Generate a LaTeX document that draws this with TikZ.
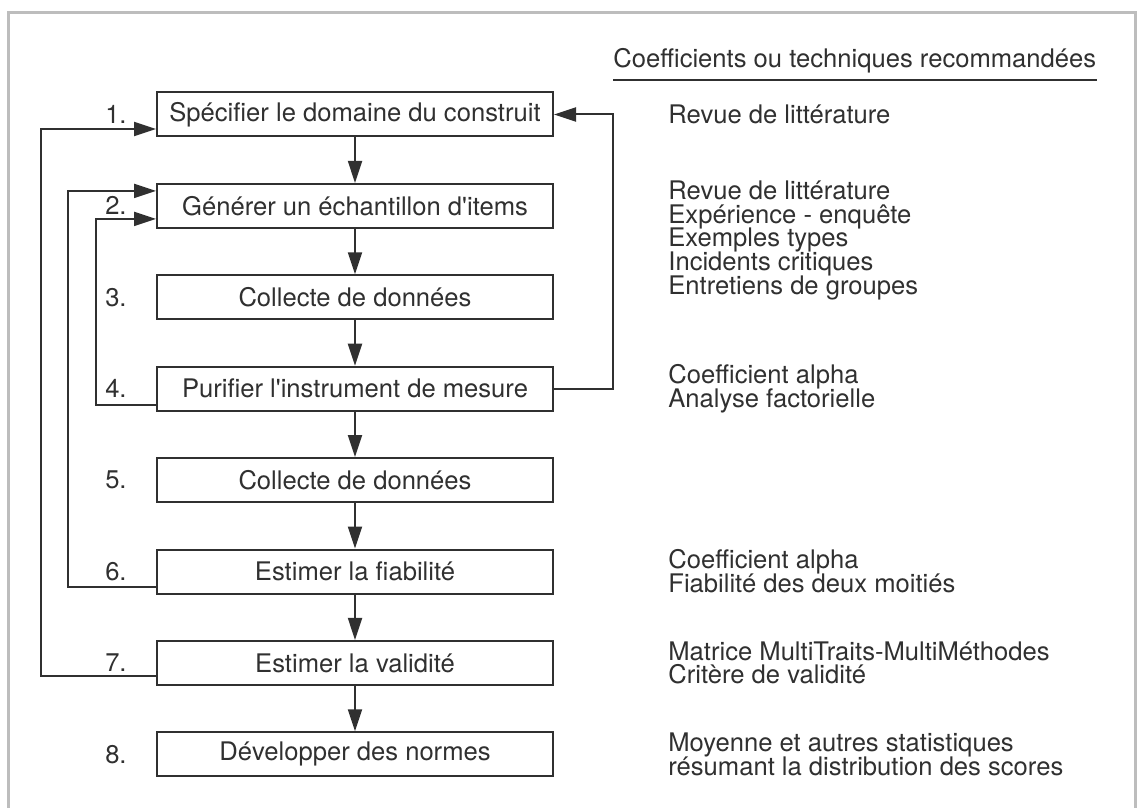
\documentclass[tikz,border=0pt]{standalone}
\usepackage{fontspec}
\setmainfont{TeX Gyre Heros}
\usepackage{xcolor}
\usepackage{tikz}
\usetikzlibrary{arrows.meta}
\usetikzlibrary{positioning}
\definecolor{encre}{HTML}{303030}
\definecolor{cadre}{HTML}{BDBDBD}
\newcommand{\policefig}{\fontsize{12.8pt}{11.9pt}\selectfont\lineskiplimit-20pt\relax}

\begin{document}
\begin{tikzpicture}[x=0.5pt,y=-0.5pt,
    font=\policefig,text=encre,
    etape/.style={draw=encre,line width=1pt,minimum width=198pt,minimum height=22pt,inner sep=0pt},
    num/.style={inner sep=0pt},
    tech/.style={anchor=west,align=left,inner sep=0pt},
    fleche/.style={draw=encre,line width=1pt,-{Triangle[length=11pt,width=7pt]}},
    node distance=22.7pt]
       \useasboundingbox (0,0) rectangle (1137,808);
       \draw[cadre,line width=1.5pt] (8,808) -- (8,13) -- (1135,13) -- (1135,808);
       \begin{scope}
         \node[etape] (e1) at (355,114.5) {Spécifier le domaine du construit};
         \node[etape,below=of e1] (e2) {Générer un échantillon d\textquotesingle items};
         \node[etape,below=of e2] (e3) {Collecte de données};
         \node[etape,below=of e3] (e4) {Purifier l\textquotesingle instrument de mesure};
         \node[etape,below=of e4] (e5) {Collecte de données};
         \node[etape,below=of e5] (e6) {Estimer la fiabilité};
         \node[etape,below=of e6] (e7) {Estimer la validité};
         \node[etape,below=of e7] (e8) {Développer des normes};
         \foreach \i in {1,...,8}
           \node[num,left=14.5pt of e\i] (n\i) {\i.};
         \foreach \a/\b in {1/2,2/3,3/4,4/5,5/6,6/7,7/8}
           \draw[fleche] (e\a) -- (e\b);
       \end{scope}
       \begin{scope}
         \draw[fleche] ([yshift=-6.75pt]e7.west) -- ++(-115,0) |- ([yshift=-7.25pt]e1.west);
         \draw[fleche] ([yshift=-7.75pt]e6.west) -- ++(-88,0) |- ([yshift=7.5pt]e2.west);
         \draw[fleche] ([yshift=-8pt]e4.west) -- ++(-60,0) |- ([yshift=-6.5pt]e2.west);
         \draw[fleche] (e4.east) -- ++(59,0) |- (e1.east);
       \end{scope}
       \begin{scope}
         \node[anchor=base west,inner sep=0pt] (titre) at (613,68) {Coefficients ou techniques recommandées};
         \draw[encre,line width=0.8pt] ([yshift=-6pt]titre.base west) -- ([yshift=-6pt]titre.base east);
         \coordinate (col) at (668,0);
         \node[tech] (t1) at (e1 -| col) {Revue de littérature};
         \node[tech,yshift=-17.25pt] (t2) at (e2 -| col) {Revue de littérature\\Expérience - enquête\\Exemples types\\Incidents critiques\\Entretiens de groupes};
         \node[tech] (t4) at (e4 -| col) {Coefficient alpha\\Analyse factorielle};
         \node[tech] (t6) at (e6 -| col) {Coefficient alpha\\Fiabilité des deux moitiés};
         \node[tech] (t7) at (e7 -| col) {Matrice MultiTraits-MultiMéthodes\\Critère de validité};
         \node[tech] (t8) at (e8 -| col) {Moyenne et autres statistiques\\résumant la distribution des scores};
       \end{scope}
     \end{tikzpicture}
\end{document}
